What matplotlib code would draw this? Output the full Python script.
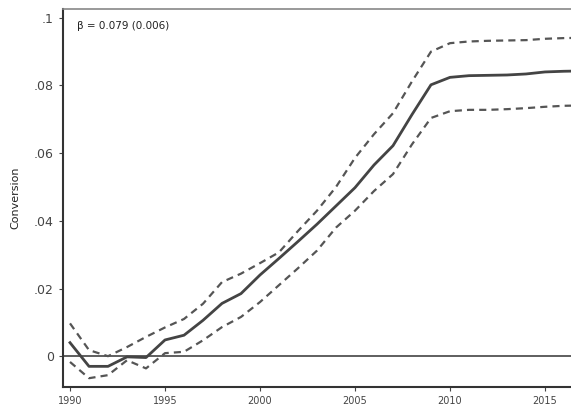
import numpy as np
import matplotlib.pyplot as plt

years = np.arange(1990, 2018)
estimate = [0.0040, -0.0030, -0.0030, -0.0002, -0.0004, 0.0048, 0.0062, 0.0106, 0.0156, 0.0185,
            0.0240, 0.0289, 0.0339, 0.0390, 0.0444, 0.0498, 0.0565, 0.0622, 0.0714, 0.0802,
            0.0824, 0.0829, 0.0830, 0.0831, 0.0834, 0.0840, 0.0842, 0.0843]
upper = [0.0097, 0.0018, 0.0000, 0.0027, 0.0057, 0.0085, 0.0110, 0.0155, 0.0219, 0.0244,
         0.0275, 0.0307, 0.0370, 0.0430, 0.0500, 0.0586, 0.0656, 0.0718, 0.0812, 0.0900,
         0.0925, 0.0930, 0.0932, 0.0933, 0.0934, 0.0938, 0.0940, 0.0941]
lower = [-0.0017, -0.0065, -0.0056, -0.0012, -0.0036, 0.0009, 0.0013, 0.0047, 0.0086, 0.0116,
         0.0160, 0.0210, 0.0260, 0.0312, 0.0380, 0.0430, 0.0488, 0.0538, 0.0626, 0.0704,
         0.0724, 0.0728, 0.0728, 0.0730, 0.0733, 0.0737, 0.0740, 0.0741]

y_ticks = [0, 0.02, 0.04, 0.06, 0.08, 0.1]
y_tick_labels = ['0', '.02', '.04', '.06', '.08', '.1']
x_ticks = [1990, 1995, 2000, 2005, 2010, 2015]
annotation = '\u03b2 = 0.079 (0.006)'


def main():
    fig = plt.figure(figsize=(5.71, 4.09), dpi=100)
    ax = fig.add_axes([0.1103, 0.0538, 0.8897, 0.9242])

    ax.axhline(0, color='#333333', lw=1.1, zorder=1)
    ax.plot(years, estimate, color='#444444', lw=2.0, solid_joinstyle='round', zorder=3)
    ax.plot(years, upper, color='#555555', lw=1.6, ls=(0, (3.2, 2.3)), dash_joinstyle='round', zorder=2)
    ax.plot(years, lower, color='#555555', lw=1.6, ls=(0, (3.2, 2.3)), dash_joinstyle='round', zorder=2)

    ax.set_xlim(1989.63, 2016.37)
    ax.set_ylim(-0.0091, 0.1026)
    ax.set_xticks(x_ticks)
    ax.set_xticklabels([str(t) for t in x_ticks], fontsize=7, color='#333333')
    ax.set_yticks(y_ticks)
    ax.set_yticklabels(y_tick_labels, fontsize=9, color='#222222')
    ax.tick_params(axis='both', direction='out', length=3, width=0.8, colors='#444444')
    ax.set_ylabel('Conversion', fontsize=8, color='#222222', labelpad=10)

    for side in ['left', 'bottom']:
        ax.spines[side].set_linewidth(1.5)
        ax.spines[side].set_color('#333333')
    ax.spines['top'].set_linewidth(1.2)
    ax.spines['top'].set_color('#888888')
    ax.spines['right'].set_visible(False)

    ax.text(0.027, 0.955, annotation, transform=ax.transAxes, fontsize=7.5,
            color='#222222', va='center', ha='left')

    fig.savefig('out.png', dpi=100)


if __name__ == '__main__':
    main()
